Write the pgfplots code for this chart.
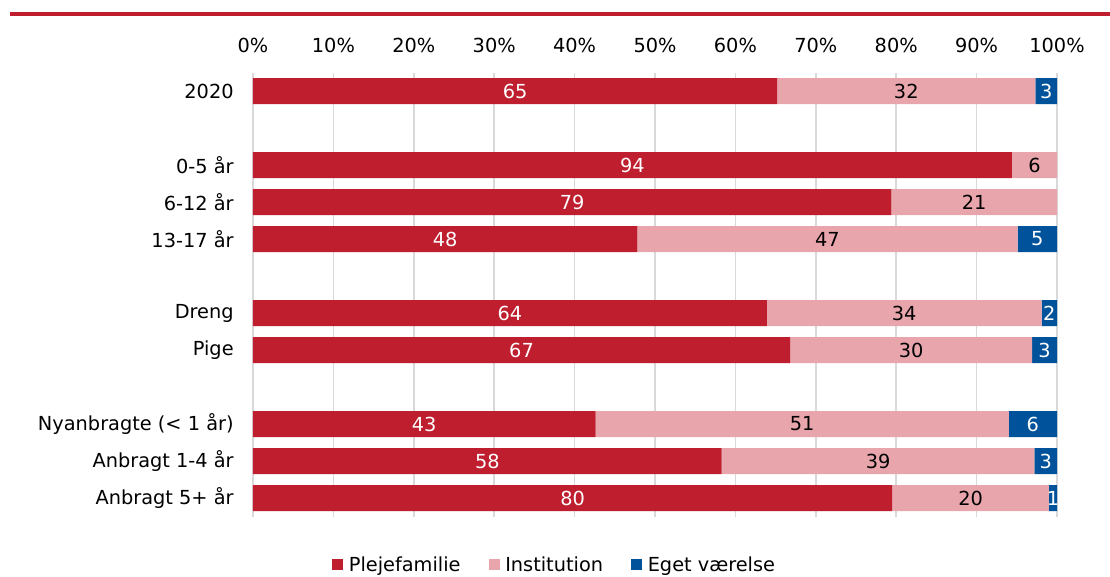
\documentclass[border=0pt]{standalone}
\usepackage{fontspec}
\setmainfont{DejaVu Sans}
\usepackage{pgfplots}
\pgfplotsset{compat=1.18}
\definecolor{pleje}{HTML}{BE1E2D}
\definecolor{inst}{HTML}{E8A6AC}
\definecolor{eget}{HTML}{00539B}
\definecolor{gridgray}{HTML}{D9D9D9}
\newcommand{\lblfont}{\fontsize{14.5pt}{17pt}\selectfont}

\begin{document}
\begin{tikzpicture}
% page frame: 1110 x 576 px at 0.75pt per px, axis box corner at origin
\path[use as bounding box] (-189.75pt,-44.625pt) rectangle (642.75pt,387.375pt);
\draw[pleje, line width=3pt] (-182.25pt,376.875pt) -- (642.75pt,376.875pt);
\begin{axis}[
  xbar stacked,
  scale only axis,
  width=603pt, height=333pt,
  xmin=0, xmax=100,
  ymin=-0.5, ymax=11.5,
  y dir=reverse,
  bar width=19.5pt,
  xtick={0,10,...,100},
  xticklabel={\pgfmathprintnumber{\tick}\%},
  xticklabel pos=upper,
  xticklabel style={yshift=11pt},
  ytick={0,2,3,4,6,7,9,10,11},
  yticklabels={2020,0-5 år,6-12 år,13-17 år,Dreng,Pige,Nyanbragte (< 1 år),Anbragt 1-4 år,Anbragt 5+ år},
  yticklabel style={xshift=-11pt},
  xmajorgrids,
  grid style={gridgray, line width=1.2pt},
  axis line style={draw=none},
  major tick length=0pt,
  tick label style={font=\lblfont},
  /pgf/number format/assume math mode=true,
  point meta=explicit symbolic,
  nodes near coords,
  every node near coord/.append style={anchor=center, font=\lblfont},
  legend columns=-1,
  legend style={at={(0.3756,-0.1092)}, anchor=center, draw=none,
    font=\lblfont,
    /tikz/every even column/.append style={column sep=19pt}},
  legend image code/.code={\fill[#1] (0pt,-4pt) rectangle (8.25pt,4.25pt);
    \path (10.5pt,0pt);},
]
\addplot[fill=pleje, draw=none, nodes near coords style={text=white}] coordinates {
  (65.2,0) [65]
  (94.4,2) [94]
  (79.4,3) [79]
  (47.8,4) [48]
  (63.9,6) [64]
  (66.8,7) [67]
  (42.6,9) [43]
  (58.3,10) [58]
  (79.5,11) [80]
};
\addlegendentry{Plejefamilie}
\addplot[fill=inst, draw=none, nodes near coords style={text=black}] coordinates {
  (32.1,0) [32]
  (5.6,2) [6]
  (20.6,3) [21]
  (47.3,4) [47]
  (34.2,6) [34]
  (30.1,7) [30]
  (51.4,9) [51]
  (38.9,10) [39]
  (19.5,11) [20]
};
\addlegendentry{Institution}
\addplot[fill=eget, draw=none, nodes near coords style={text=white}] coordinates {
  (2.7,0) [3]
  (0,2) []
  (0,3) []
  (4.9,4) [5]
  (1.9,6) [2]
  (3.1,7) [3]
  (6.0,9) [6]
  (2.8,10) [3]
  (1.0,11) [1]
};
\addlegendentry{Eget værelse}
\end{axis}
\end{tikzpicture}
\end{document}
